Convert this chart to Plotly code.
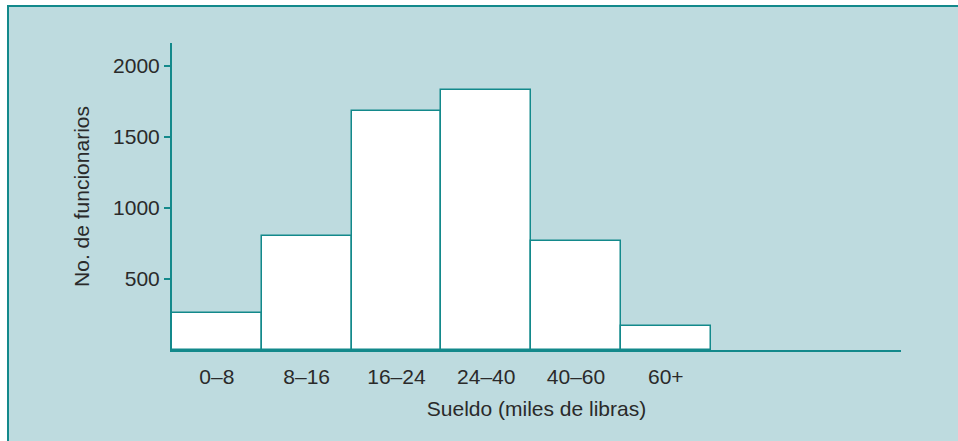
import plotly.graph_objects as go

categories = ["0–8", "8–16", "16–24", "24–40", "40–60", "60+"]
employees = [260, 803, 1683, 1830, 768, 172]
y_ticks = [500, 1000, 1500, 2000]

TEAL = "#13898b"
BG = "#bedbdf"
TXT = "#2a2a2a"
FONT = "Liberation Sans, Arial, sans-serif"
FS = 21
W, H = 958, 441
L, R, T, B = 172, 57, 43, 91
pw, ph = W - L - R, H - T - B

fig = go.Figure()
fig.add_trace(go.Bar(
    x=list(range(len(categories))), y=employees, width=1.0,
    marker=dict(color="white", line=dict(color=TEAL, width=1.5)),
    hoverinfo="skip",
))

# panel background
fig.add_shape(type="rect", xref="paper", yref="paper", layer="below",
              x0=(8 - L) / pw, x1=(W + 10 - L) / pw,
              y0=-(H + 10 - (T + ph)) / ph, y1=(T + ph - 6) / ph,
              fillcolor=BG, line=dict(color=TEAL, width=2))

fig.update_layout(
    width=W, height=H,
    margin=dict(l=L, r=R, t=T, b=B),
    paper_bgcolor="white", plot_bgcolor="rgba(0,0,0,0)",
    font=dict(family=FONT, size=FS, color=TXT),
    showlegend=False, bargap=0,
    xaxis=dict(
        range=[-0.5, 7.62], tickmode="array",
        tickvals=list(range(len(categories))), ticktext=categories,
        tickfont=dict(family=FONT, size=FS, color=TXT),
        showline=True, linecolor=TEAL, linewidth=2,
        ticks="outside", ticklen=7, tickcolor="rgba(0,0,0,0)",
        showgrid=False, zeroline=False,
        title=dict(text="Sueldo (miles de libras)", standoff=14,
                   font=dict(family=FONT, size=FS, color=TXT)),
    ),
    yaxis=dict(
        range=[0, 2162], tickmode="array", tickvals=y_ticks,
        tickfont=dict(family=FONT, size=FS, color=TXT),
        showline=True, linecolor=TEAL, linewidth=2,
        ticks="outside", ticklen=6, tickcolor=TEAL, tickwidth=2,
        showgrid=False, zeroline=False,
        title=dict(text="No. de funcionarios", standoff=18,
                   font=dict(family=FONT, size=FS, color=TXT)),
    ),
)

fig.write_html("out.html", config={"displayModeBar": False},
               post_script="document.body.style.margin='0';document.body.style.overflow='hidden';")
